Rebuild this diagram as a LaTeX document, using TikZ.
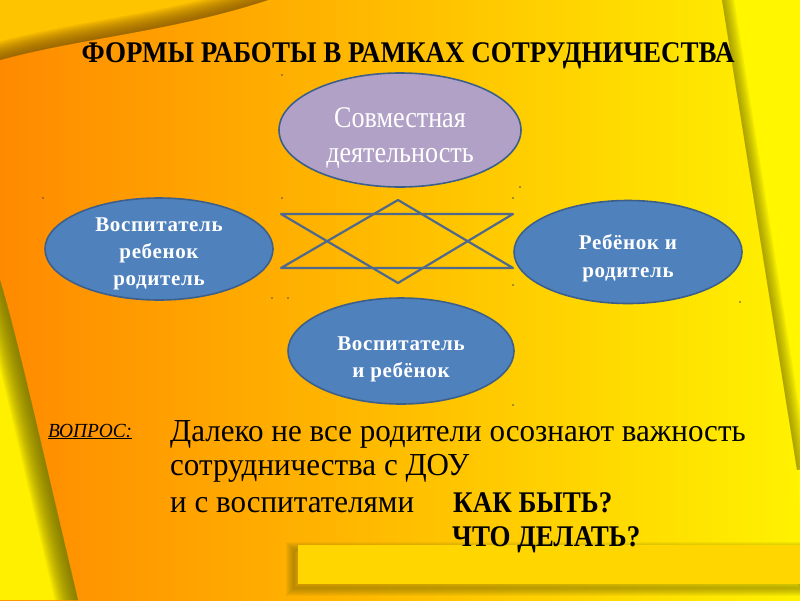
\documentclass[tikz,border=0pt]{standalone}
\usepackage{fontspec}
\setmainfont{Liberation Serif}
\newfontfamily\narrowfont[FakeStretch=0.9]{Liberation Serif}
\newfontfamily\bodyfont[FakeStretch=0.97]{Liberation Serif}
\newfontfamily\slimfont[FakeStretch=0.87]{Liberation Serif}
\newfontfamily\ovalfont[LetterSpace=3]{Liberation Serif}
\usetikzlibrary{shapes.geometric}
\definecolor{deeporange}{RGB}{255,138,0}
\definecolor{amber}{RGB}{255,196,0}
\definecolor{lemon}{RGB}{255,242,0}
\definecolor{foldtop}{RGB}{255,196,0}
\definecolor{foldshade}{RGB}{120,70,0}
\definecolor{stripyellow}{RGB}{255,240,0}
\definecolor{olive}{RGB}{110,100,0}
\definecolor{bargold}{RGB}{255,214,0}
\definecolor{ovalblue}{RGB}{79,129,189}
\definecolor{ovalline}{RGB}{60,95,140}
\definecolor{lavender}{RGB}{178,161,199}
\definecolor{starline}{RGB}{79,105,140}

\begin{document}
\begin{tikzpicture}[x=1pt,y=-1pt,
  oval/.style={ellipse, draw=ovalline, line width=1.6pt, inner sep=0pt, align=center, text=white},
  blueoval/.style={oval, fill=ovalblue, minimum width=228pt, minimum height=102pt,
    font=\ovalfont\fontsize{21}{27}\selectfont\bfseries},
  ovaltext/.style={align=center, text=white, inner sep=0pt, font=\ovalfont\fontsize{21}{27}\selectfont\bfseries},
  shadowline/.style={line width=#1, opacity=0.09},
  bodytext/.style={anchor=base west, inner sep=0pt, font=\bodyfont\fontsize{32}{32}\selectfont},
  boldtext/.style={anchor=base west, inner sep=0pt, font=\narrowfont\fontsize{30}{30}\selectfont\bfseries}]
\useasboundingbox (0,0) rectangle (800,600);
% Background page
\shade[left color=deeporange, middle color=amber, right color=lemon] (0,0) rectangle (800,600);
% Folded corner at the top
\fill[foldtop] (0,0) -- (268,0) .. controls (170,32) and (80,38) .. (0,60) -- cycle;
\begin{scope}
  \clip (0,0) -- (268,0) .. controls (170,32) and (80,38) .. (0,60) -- cycle;
  \foreach \w in {3,6,...,36}
    \draw[foldshade, shadowline=\w pt] (268,0) .. controls (170,32) and (80,38) .. (0,60);
\end{scope}
% Left strip
\fill[stripyellow] (0,280) .. controls (18,340) and (40,440) .. (78,600) -- (0,600) -- cycle;
\begin{scope}
  \clip (0,280) .. controls (18,340) and (40,440) .. (78,600) -- (0,600) -- cycle;
  \foreach \w in {3,6,...,45}
    \draw[olive, shadowline=\w pt] (0,280) .. controls (18,340) and (40,440) .. (78,600);
\end{scope}
% Right strip
\fill[stripyellow!60!yellow] (722,0) -- (800,0) -- (800,520) -- (797,470) -- cycle;
\begin{scope}
  \clip (722,0) -- (800,0) -- (800,520) -- (797,470) -- cycle;
  \foreach \w in {3,6,...,24}
    \draw[olive, shadowline=\w pt] (722,0) -- (797,470);
\end{scope}
% Bottom bar with shadow
\foreach \w in {2,4,...,16}
  \draw[olive, shadowline=\w pt, opacity=0.07] (294,550) rectangle (800,588);
\fill[bargold] (298,545) rectangle (800,584);
% Title
\node[anchor=base, font=\narrowfont\fontsize{30}{30}\selectfont\bfseries] (title) at (408,62)
  {ФОРМЫ РАБОТЫ В РАМКАХ СОТРУДНИЧЕСТВА};
% Star between the ovals
\coordinate (topleft) at (281,214);
\coordinate (topright) at (513,214);
\coordinate (lowleft) at (281,268);
\coordinate (lowright) at (513,268);
\coordinate (apexup) at (398,200);
\coordinate (apexdown) at (398,283);
\draw[starline, line width=2.2pt, line join=round] (topleft) -- (topright) -- (apexdown) -- cycle;
\draw[starline, line width=2.2pt, line join=round] (lowleft) -- (lowright) -- (apexup) -- cycle;
% Ovals
\node[oval, fill=lavender, minimum width=242pt, minimum height=114pt,
  font=\slimfont\fontsize{30}{35}\selectfont] (joint) at (400,130)
  {\rule{0pt}{36pt}Совместная\\деятельность};
\node[blueoval] (teacherall) at (159,249) {};
\node[ovaltext] (teacherallname) at ([yshift=-5pt]teacherall.center) {Воспитатель\\ребенок\\родитель};
\node[blueoval, minimum height=103pt, font=\ovalfont\fontsize{21}{28}\selectfont\bfseries] (childparent) at (628,252)
  {\rule{0pt}{28pt}Ребёнок и\\родитель};
\node[blueoval, minimum width=226pt, minimum height=106pt] (teacherchild) at (401,351)
  {\rule{0pt}{30pt}Воспитатель\\и ребёнок};
% Stray dots
\foreach \p in {(282,75),(43,198),(520,187),(282,198),(513,198),(272,298),(288,298),(513,285),(740,302),(513,405)}
  \fill[black!70] \p circle (0.9);
% Question
\node[anchor=base west, inner sep=0pt, font=\bodyfont\fontsize{20}{20}\selectfont\itshape] (question) at (48,437)
  {\underline{ВОПРОС:}};
\node[bodytext] (line1) at (170,441) {Далеко не все родители осознают важность};
\node[bodytext] (line2) at (170,475) {сотрудничества с ДОУ};
\node[bodytext] (line3) at (170,512) {и с воспитателями};
\node[boldtext] (howto) at (453,512) {КАК БЫТЬ?};
\node[boldtext] (whatdo) at (452,546) {ЧТО ДЕЛАТЬ?};
\end{tikzpicture}
\end{document}
